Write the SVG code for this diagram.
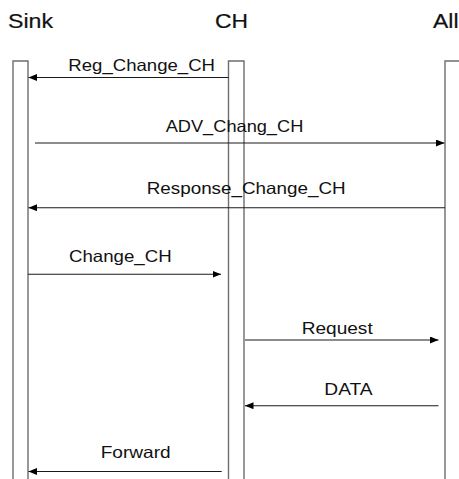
<svg xmlns="http://www.w3.org/2000/svg" width="459" height="479" viewBox="0 0 459 479">
  <style>
    .head { font-family: "Liberation Sans", Arial, sans-serif; font-size: 20px; fill: #111; stroke: #111; stroke-width: 0.2; }
    .lbl { font-family: "Liberation Sans", Arial, sans-serif; font-size: 16.5px; fill: #111; }
    .bar { fill: #fff; stroke: #6e6e6e; stroke-width: 1.4; }
    .msg { stroke: #1a1a1a; stroke-width: 1.1; fill: none; marker-end: url(#head); }
  </style>
  <defs>
    <marker id="head" markerUnits="userSpaceOnUse" markerWidth="9" markerHeight="8" refX="8.5" refY="3.5" orient="auto">
      <path d="M0,0 L8.5,3.5 L0,7 z" fill="#000"/>
    </marker>
  </defs>
  <rect width="459" height="479" fill="#fff"/>

  <!-- lifelines -->
  <g id="sink">
    <text class="head" x="8" y="28" textLength="45" lengthAdjust="spacingAndGlyphs">Sink</text>
    <path class="bar" d="M13,485 V61 H28 V485"/>
  </g>
  <g id="ch">
    <text class="head" x="215" y="28" textLength="33" lengthAdjust="spacingAndGlyphs">CH</text>
    <path class="bar" d="M228.5,485 V61 H244 V485"/>
  </g>
  <g id="all">
    <text class="head" x="433" y="28" textLength="25.5" lengthAdjust="spacingAndGlyphs">All</text>
    <path class="bar" d="M445,485 V61 H470"/>
  </g>

  <!-- messages -->
  <g id="connectors">
    <line class="msg" x1="228.5" y1="77.5" x2="28.5" y2="77.5"/>
    <text class="lbl" x="68.3" y="70.7" textLength="146.7" lengthAdjust="spacingAndGlyphs">Reg_Change_CH</text>

    <line class="msg" x1="35" y1="143" x2="444.5" y2="143"/>
    <text class="lbl" x="165.7" y="132.3" textLength="137.6" lengthAdjust="spacingAndGlyphs">ADV_Chang_CH</text>

    <line class="msg" x1="445" y1="207.7" x2="28.5" y2="207.7"/>
    <text class="lbl" x="146.7" y="194.3" textLength="199" lengthAdjust="spacingAndGlyphs">Response_Change_CH</text>

    <line class="msg" x1="28" y1="274.3" x2="221" y2="274.3"/>
    <text class="lbl" x="69" y="262.3" textLength="102.7" lengthAdjust="spacingAndGlyphs">Change_CH</text>

    <line class="msg" x1="245" y1="340" x2="438.5" y2="340"/>
    <text class="lbl" x="301.7" y="334" textLength="71" lengthAdjust="spacingAndGlyphs">Request</text>

    <line class="msg" x1="438.5" y1="405.7" x2="245" y2="405.7"/>
    <text class="lbl" x="324.3" y="395" textLength="48.3" lengthAdjust="spacingAndGlyphs">DATA</text>

    <line class="msg" x1="221.7" y1="471.5" x2="28.5" y2="471.5"/>
    <text class="lbl" x="100.7" y="457.7" textLength="70" lengthAdjust="spacingAndGlyphs">Forward</text>
  </g>
</svg>
